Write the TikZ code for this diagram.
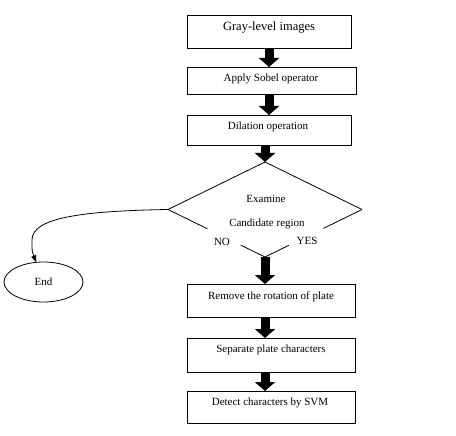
\documentclass[tikz,border=0pt]{standalone}
\usepackage{fontspec}
\setmainfont{Liberation Serif}
\usetikzlibrary{arrows.meta,shapes.geometric,calc}
\begin{document}
\begin{tikzpicture}[x=1pt,y=-1pt,
  box/.style={draw,line width=0.8pt,inner sep=0pt,outer sep=0pt},
  txt/.style={inner sep=0pt,font=\fontsize{11}{13}\selectfont},
  bigtxt/.style={inner sep=0pt,font=\fontsize{12.5}{15}\selectfont},
  bigarrow/.style={line width=9pt,-{Triangle[width=20pt,length=9pt]}},
  thinarrow/.style={line width=0.8pt,-{Triangle[width=5pt,length=7pt]}},
  edge/.style={line width=0.8pt}]
\useasboundingbox (0,0) rectangle (456,436);
% boxes
\node[box,minimum width=164pt,minimum height=33pt] (b1) at (269,31.5) {};
\node[box,minimum width=169pt,minimum height=27pt] (b2) at (271.5,80.5) {};
\node[box,minimum width=164pt,minimum height=30pt] (b3) at (269,130) {};
\node[box,minimum width=168pt,minimum height=33pt] (b4) at (271,300.5) {};
\node[box,minimum width=168pt,minimum height=34pt] (b5) at (271,355) {};
\node[box,minimum width=168pt,minimum height=32pt] (b6) at (271,407) {};
% texts
\node[bigtxt] (t1) at (269,28) {Gray-level images};
\node[txt] (t2) at (271,79) {Apply Sobel operator};
\node[txt] (t3) at (268,127) {Dilation operation};
\node[txt] (t4) at (271,297) {Remove the rotation of plate};
\node[txt] (t5) at (271,350) {Separate plate characters};
\node[txt] (t6) at (270,402.5) {Detect characters by SVM};
% decision
\node[diamond,minimum width=194pt,minimum height=95pt,inner sep=0pt,outer sep=0pt] (dec) at (265,209.5) {};
\draw[edge] (dec.west) -- (dec.north) -- (dec.east);
\draw[edge] (dec.west) -- ($(dec.west)!0.406!(dec.south)$);
\draw[edge] ($(dec.west)!0.75!(dec.south)$) -- (dec.south);
\draw[edge] (dec.east) -- ($(dec.east)!0.398!(dec.south)$);
\draw[edge] ($(dec.east)!0.755!(dec.south)$) -- (dec.south);
\node[txt] (ex) at (266,199) {Examine};
\node[txt] (cr) at (267,224) {Candidate region};
\node[txt] (no) at (222,242) {NO};
\node[txt] (yes) at (307,241) {YES};
% end
\node[ellipse,draw,line width=0.8pt,minimum width=79pt,minimum height=40pt,inner sep=0pt,outer sep=0pt,font=\fontsize{11}{13}\selectfont] (end) at (43.5,282) {End};
% arrows
\draw[bigarrow] (b1.south) -- (b1.south |- b2.north);
\draw[bigarrow] (b1.south |- b2.south) -- (b1.south |- b3.north);
\draw[bigarrow] (b3.south -| dec.north) -- (dec.north);
\draw[bigarrow] (dec.south) -- (dec.south |- b4.north);
\draw[bigarrow] (b4.south -| dec.south) -- (dec.south |- b5.north);
\draw[bigarrow] (b5.south -| dec.south) -- (dec.south |- b6.north);
\draw[thinarrow] (dec.west) .. controls (80,211) and (32,218) .. (32,240) .. controls (32,252) .. (end.110);
\end{tikzpicture}
\end{document}
